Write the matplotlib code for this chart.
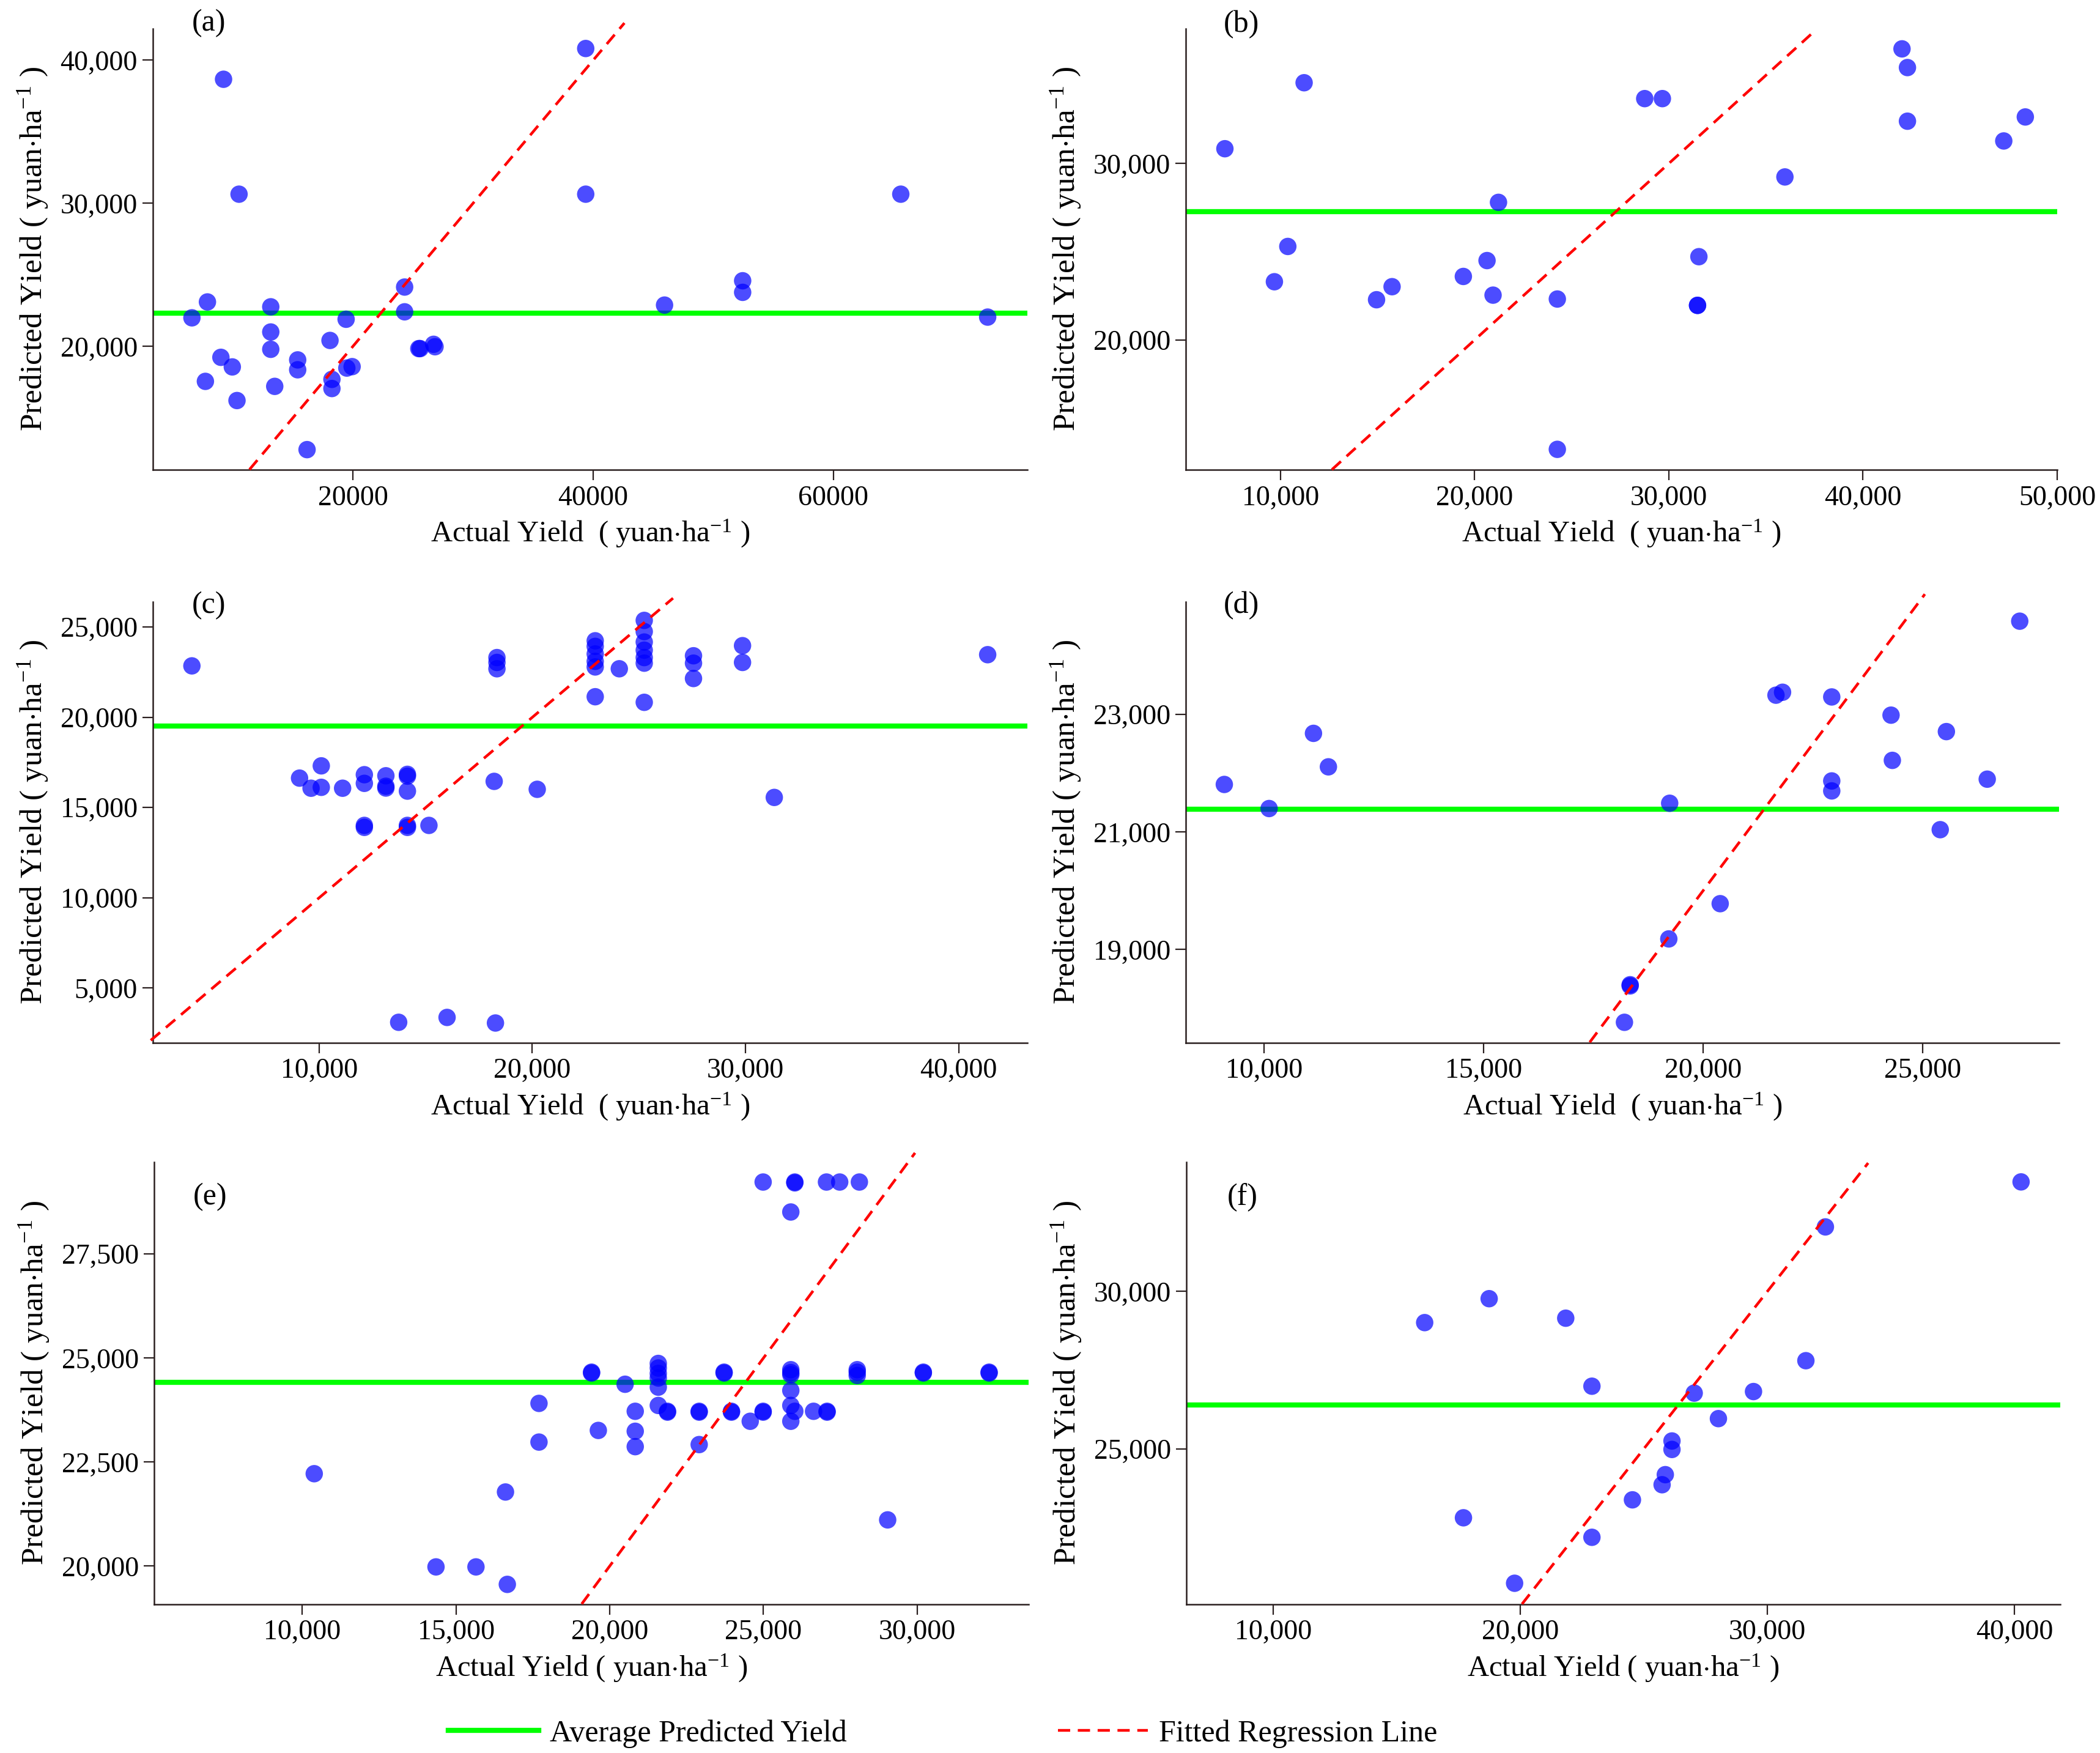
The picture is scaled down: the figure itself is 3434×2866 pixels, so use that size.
import numpy as np
import matplotlib
matplotlib.use("Agg")
import matplotlib.pyplot as plt
from matplotlib.lines import Line2D
from matplotlib.ticker import FuncFormatter

plt.rcParams['font.family'] = ['Liberation Serif', 'DejaVu Serif']
plt.rcParams['mathtext.fontset'] = 'custom'
plt.rcParams['mathtext.rm'] = 'Liberation Serif'
plt.rcParams['mathtext.it'] = 'Liberation Serif:italic'

# (a)
actual_a = [6610, 7900, 9240, 10530, 7730, 9020, 9970, 10360, 13170, 13170, 13170, 13500,
            15410, 15410, 16190, 18100, 18260, 18260, 19440, 19500, 19940, 24310, 24310,
            25490, 25600, 26720, 26840, 39380, 39380, 45940, 52440, 52440, 65600, 72830]
pred_a = [22000, 23110, 38670, 30640, 17560, 19240, 18570, 16220, 22770, 21010, 19800, 17210,
          19060, 18370, 12790, 20420, 17700, 17060, 21900, 18490, 18590, 24150, 22420,
          19850, 19850, 20150, 19980, 40820, 30640, 22890, 24590, 23780, 30640, 22050]
avg_a = 22320
fit_a = [11400, 42600]

# (b)
actual_b = [7140, 9690, 10380, 11220, 14950, 15750, 19420, 20640, 20950, 21230, 24260, 24260,
            28760, 29670, 31480, 31480, 31550, 35980, 42010, 42290, 42290, 47250, 48360]
pred_b = [30840, 23300, 25300, 34580, 22280, 23020, 23600, 24500, 22540, 27800, 22320, 13800,
          33680, 33680, 21960, 21960, 24720, 29240, 36500, 35440, 32400, 31280, 32640]
avg_b = 27280
fit_b = [12650, 37500]

# (c)
actual_c = [4030, 9080, 9620, 10100, 10100, 11100, 12120, 12120, 12120, 12120, 13130, 13130,
            13130, 14140, 14140, 14140, 14140, 14140, 15150, 13730, 16000, 18270, 18210,
            18340, 18340, 18340, 20230, 22950, 22950, 22950, 22950, 22950, 22950, 24080,
            25250, 25250, 25250, 25250, 25250, 25250, 25250, 27560, 27560, 27560, 29860,
            29860, 31350, 41360]
pred_c = [22850, 16630, 16070, 17310, 16120, 16070, 16820, 16340, 14010, 13900, 16760, 16180,
          16080, 16840, 16740, 15910, 14010, 13900, 14010, 3100, 3370, 3060, 16450,
          23310, 23040, 22690, 16010, 24240, 23930, 23510, 23100, 22790, 21140, 22690,
          25370, 24750, 24170, 23720, 23310, 23000, 20830, 23410, 23000, 22150, 23970,
          23040, 15560, 23470]
avg_c = 19500
fit_c = [2100, 26600]

# (d)
actual_d = [9100, 10120, 11130, 11470, 19240, 19220, 18340, 18340, 18210, 20390, 21660, 21810,
            22930, 22930, 22930, 24280, 24310, 25540, 25400, 26470, 27210]
pred_d = [21810, 21400, 22680, 22110, 21490, 19180, 18400, 18380, 17760, 19780, 23330, 23380,
          23300, 21870, 21700, 22990, 22220, 22710, 21040, 21900, 24590]
avg_d = 21390
fit_d = [17420, 25050]

# (e)
actual_e = [10390, 14350, 15650, 16670, 16610, 17700, 17700, 19410, 19410, 19630, 20500, 20830,
            20830, 20830, 21580, 21580, 21580, 21580, 21580, 21580, 21880, 21880, 22910,
            22910, 22910, 23720, 23720, 23960, 23960, 24570, 24990, 24990, 24990, 25890,
            25890, 25890, 25890, 25890, 25890, 25890, 26020, 26020, 26020, 26630, 27070,
            27070, 27050, 27480, 28120, 28050, 28050, 28050, 29040, 30200, 30200, 32340, 32340]
pred_e = [22220, 19980, 19980, 19560, 21780, 23910, 22980, 24660, 24640, 23260, 24370, 23720,
          23240, 22870, 24870, 24760, 24630, 24520, 24300, 23860, 23720, 23700, 23720,
          23700, 22920, 24660, 24640, 23720, 23700, 23480, 23720, 23700, 29230, 24720,
          24650, 24600, 24220, 23860, 23480, 28510, 29230, 29210, 23720, 23720, 23720,
          23700, 29230, 29230, 29230, 24720, 24660, 24580, 21110, 24660, 24640, 24660, 24640]
avg_e = 24415
fit_e = [19090, 29930]

# (f)
actual_f = [16130, 17700, 18740, 19770, 21840, 22900, 22900, 24540, 25740, 25870, 26140, 26140,
            27040, 28020, 29440, 31560, 32350, 40270]
pred_f = [29010, 22810, 29770, 20730, 29150, 26990, 22190, 23380, 23860, 24180, 25250, 24980,
          26770, 25960, 26820, 27800, 32050, 33480]
avg_f = 26390
fit_f = [20070, 34080]

panels = [
    ('(a)', actual_a, pred_a, avg_a, fit_a, (3360, 76130), (11380, 42200),
     [20000, 40000, 60000], [20000, 30000, 40000], False, 1.012),
    ('(b)', actual_b, pred_b, avg_b, fit_b, (5120, 50000), (12640, 37640),
     [10000, 20000, 30000, 40000, 50000], [20000, 30000], True, 1.01),
    ('(c)', actual_c, pred_c, avg_c, fit_c, (2200, 43220), (1960, 26400),
     [10000, 20000, 30000, 40000], [5000, 10000, 15000, 20000, 25000], True, 0.992),
    ('(d)', actual_d, pred_d, avg_d, fit_d, (8220, 28110), (17410, 24920),
     [10000, 15000, 20000, 25000], [19000, 21000, 23000], True, 0.992),
    ('(e)', actual_e, pred_e, avg_e, fit_e, (5190, 33630), (19080, 29710),
     [10000, 15000, 20000, 25000, 30000], [20000, 22500, 25000, 27500], True, 0.921),
    ('(f)', actual_f, pred_f, avg_f, fit_f, (6490, 41850), (20060, 34110),
     [10000, 20000, 30000, 40000], [25000, 30000], True, 0.92),
]

positions = [
    [0.0728, 0.732, 0.4164, 0.2516], [0.5646, 0.732, 0.4150, 0.2516],
    [0.0728, 0.4051, 0.4164, 0.2516], [0.5646, 0.4051, 0.4160, 0.2516],
    [0.0735, 0.0848, 0.4164, 0.2523], [0.5650, 0.0848, 0.4160, 0.2523],
]

comma = FuncFormatter(lambda v, p: "{:,.0f}".format(v))

fig = plt.figure(figsize=(34.34, 28.66), dpi=100)

for i, (lab, xs, ys, avg, fit, xl, yl, xt, yt, use_comma, lab_y) in enumerate(panels):
    ax = fig.add_axes(positions[i])
    ax.scatter(xs, ys, s=420, color='#0000ff', alpha=0.7, edgecolors='none', zorder=3)
    ax.axhline(avg, color='#00ff00', linewidth=6, zorder=2)
    ax.plot(fit, fit, color='#ff0000', linewidth=3.2, linestyle=(0, (4.5, 2.8)),
            clip_on=False, zorder=4)
    ax.set_xlim(xl)
    ax.set_ylim(yl)
    ax.set_xticks(xt)
    ax.set_yticks(yt)
    if use_comma:
        ax.xaxis.set_major_formatter(comma)
    ax.yaxis.set_major_formatter(comma)
    for s in ['top', 'right']:
        ax.spines[s].set_visible(False)
    for s in ['left', 'bottom']:
        ax.spines[s].set_linewidth(1.8)
        ax.spines[s].set_color('#2a1f1f')
    ax.tick_params(direction='out', length=12, width=1.6, labelsize=33, color='#2a1f1f', pad=6)
    if i < 4:
        xlab = "Actual Yield  ( yuan$\\cdot$ha$^{-1}$ )"
    else:
        xlab = "Actual Yield ( yuan$\\cdot$ha$^{-1}$ )"
    ax.set_xlabel(xlab, fontsize=35, labelpad=8)
    ax.set_ylabel("Predicted Yield ( yuan$\\cdot$ha$^{-1}$ )", fontsize=37, labelpad=12)
    ax.text(0.064, lab_y, lab, transform=ax.transAxes, fontsize=36, ha='center', va='center')

handles = [Line2D([0], [0], color='#00ff00', linewidth=6),
           Line2D([0], [0], color='#ff0000', linewidth=3.2, linestyle=(0, (4.5, 2.8)))]
fig.legend(handles, ['Average Predicted Yield', 'Fitted Regression Line'],
           loc='center', bbox_to_anchor=(0.449, 0.011), ncol=2, frameon=False,
           fontsize=36, handlelength=2.95, handletextpad=0.36, columnspacing=6.9)

fig.savefig('out.png', dpi=100)
